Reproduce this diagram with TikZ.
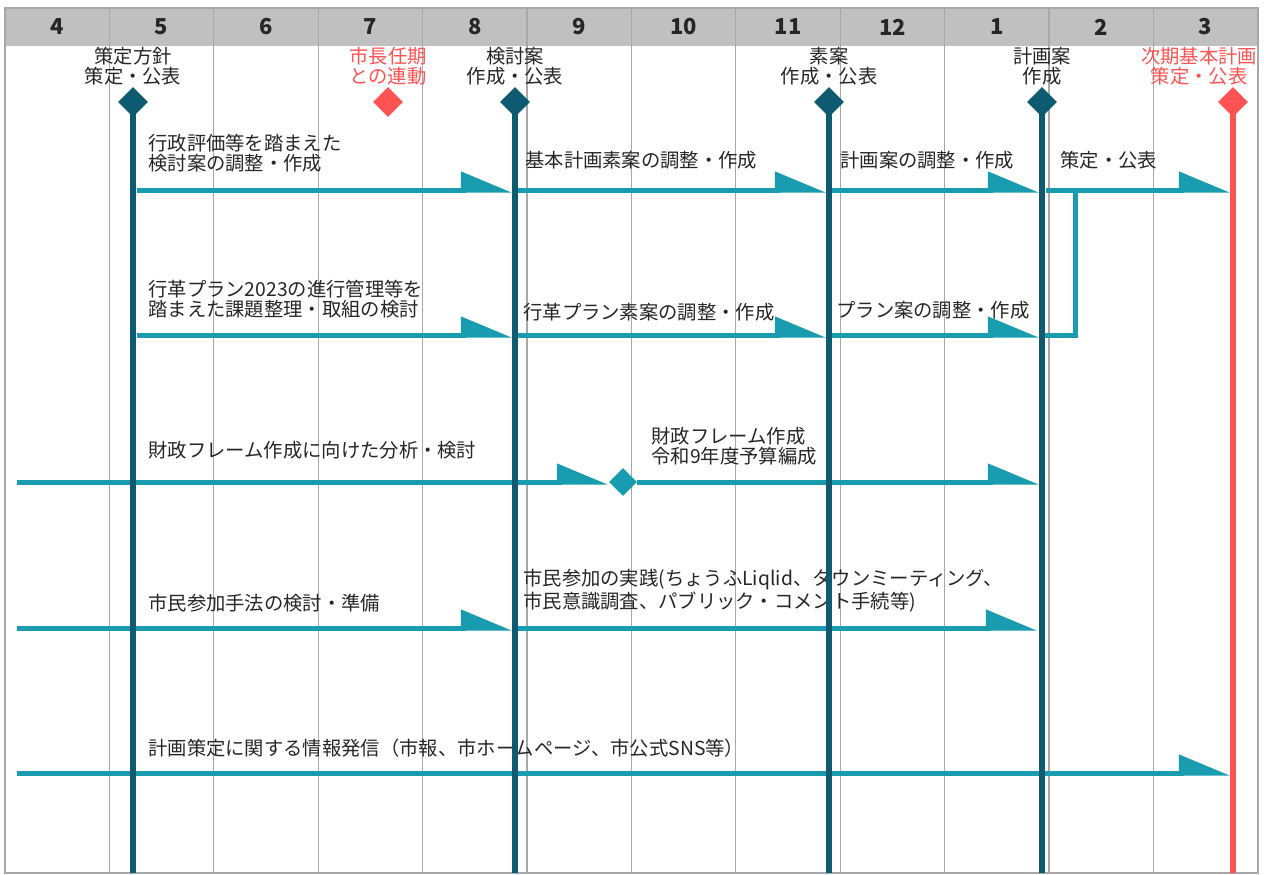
\documentclass[tikz,border=0pt]{standalone}
\usepackage{fontspec}
\setmainfont{Noto Sans CJK JP}
\usepackage{tikz}
\definecolor{planteal}{RGB}{14,90,112}
\definecolor{flowteal}{RGB}{26,156,176}
\definecolor{planred}{RGB}{255,82,82}
\definecolor{headgray}{RGB}{192,192,192}
\definecolor{gridgray}{RGB}{168,168,168}
\definecolor{inkgray}{RGB}{38,38,38}
\usetikzlibrary{arrows.meta,positioning,shapes.geometric}

\begin{document}
\begin{tikzpicture}[x=0.02cm, y=-0.02cm,
    month/.style={font=\fontsize{12.5}{13}\selectfont\bfseries, text=inkgray},
    mile/.style={diamond, fill=planteal, minimum size=0.6cm, inner sep=0pt},
    milered/.style={mile, fill=planred},
    gate/.style={diamond, fill=flowteal, minimum size=0.56cm, inner sep=0pt},
    mlabel/.style={align=center, inner sep=0pt, text=inkgray, font=\fontsize{11}{11.5}\selectfont},
    task/.style={align=left, anchor=west, inner sep=0pt, text=inkgray, font=\fontsize{11}{11.5}\selectfont},
    mileline/.style={draw=planteal, line width=0.11cm},
    redline/.style={draw=planred, line width=0.11cm},
    flow/.style={draw=flowteal, line width=0.1cm, -{Triangle[harpoon, length=0.9cm, width=0.72cm]}},
    merge/.style={draw=flowteal, line width=0.1cm},
    gridline/.style={draw=gridgray, line width=0.7pt}]
    \useasboundingbox (0,0) rectangle (1264,875);

    % Month header and grid
    \fill[headgray] (5,8) rectangle (1258,46);
    \foreach \i in {1,...,11}
        \draw[gridline] ({5+104.4*\i},8) -- ({5+104.4*\i},873);
    \draw[gridline] (5,8) rectangle (1258,873);
    \foreach \m [count=\i from 0] in {4,5,6,7,8,9,10,11,12,1,2,3}
        \node[month] (mon\i) at ({57.2+104.4*\i},27) {\m};
    \coordinate (base) at (0,873);

    % Row 1: basic plan
    \coordinate (r1a) at (137,190);  \coordinate (r1b) at (512,190);
    \coordinate (r1c) at (518,190);  \coordinate (r1d) at (826,190);
    \coordinate (r1e) at (832,190);  \coordinate (r1f) at (1039,190);
    \coordinate (r1g) at (1046,190); \coordinate (r1h) at (1230,190);
    \node[task] at (148,153) {行政評価等を踏まえた\\検討案の調整・作成};
    \node[task] at (525,160) {基本計画素案の調整・作成};
    \node[task] at (840,160) {計画案の調整・作成};
    \node[task] at (1060,160) {策定・公表};
    \draw[flow] (r1a) -- (r1b);
    \draw[flow] (r1c) -- (r1d);
    \draw[flow] (r1e) -- (r1f);
    \draw[flow] (r1g) -- (r1h);

    % Row 2: reform plan
    \coordinate (r2a) at (137,335);  \coordinate (r2b) at (512,335);
    \coordinate (r2c) at (518,335);  \coordinate (r2d) at (826,335);
    \coordinate (r2e) at (832,335);  \coordinate (r2f) at (1039,335);
    \coordinate (r2g) at (1045,335); \coordinate (r2join) at (1075,188);
    \node[task] at (148,299) {行革プラン2023の進行管理等を\\踏まえた課題整理・取組の検討};
    \node[task] at (523,312) {行革プラン素案の調整・作成};
    \node[task] at (836,310) {プラン案の調整・作成};
    \draw[flow] (r2a) -- (r2b);
    \draw[flow] (r2c) -- (r2d);
    \draw[flow] (r2e) -- (r2f);
    \draw[merge] (r2g) -| (r2join);

    % Row 3: fiscal frame
    \coordinate (r3a) at (17,482);   \coordinate (r3b) at (608,482);
    \coordinate (r3c) at (1039,482);
    \node[gate] (frame) at (623,482) {};
    \node[task] at (148,450) {財政フレーム作成に向けた分析・検討};
    \node[task] at (651,446) {財政フレーム作成\\令和9年度予算編成};
    \draw[flow] (r3a) -- (r3b);
    \draw[flow] (frame.east) -- (r3c);

    % Row 4: citizen participation
    \coordinate (r4a) at (17,628);   \coordinate (r4b) at (512,628);
    \coordinate (r4c) at (518,628);  \coordinate (r4d) at (1037,628);
    \node[task] at (148,603) {市民参加手法の検討・準備};
    \node[task] at (523,591) {市民参加の実践(ちょうふLiqlid、タウンミーティング、\\市民意識調査、パブリック・コメント手続等)};
    \draw[flow] (r4a) -- (r4b);
    \draw[flow] (r4c) -- (r4d);

    % Row 5: information
    \coordinate (r5a) at (17,773);   \coordinate (r5b) at (1230,773);
    \node[task] at (148,748) {計画策定に関する情報発信（市報、市ホームページ、市公式SNS等）};
    \draw[flow] (r5a) -- (r5b);

    % Milestones
    \node[mile] (housin) at (133,102) {};
    \node[milered] (ninki) at (388,102) {};
    \node[mile] (kentou) at (515,102) {};
    \node[mile] (soan) at (829,102) {};
    \node[mile] (keikaku) at (1042,102) {};
    \node[milered] (jiki) at (1233,102) {};
    \node[mlabel, above=0.02cm of housin] {策定方針\\策定・公表};
    \node[mlabel, text=planred, above=0.02cm of ninki] {市長任期\\との連動};
    \node[mlabel, above=0.02cm of kentou] {検討案\\作成・公表};
    \node[mlabel, above=0.02cm of soan] {素案\\作成・公表};
    \node[mlabel, above=0.02cm of keikaku] {計画案\\作成};
    \node[mlabel, text=planred, above=0.02cm of jiki, xshift=-0.68cm] {次期基本計画\\策定・公表};
    \foreach \n in {housin,kentou,soan,keikaku}
        \draw[mileline] ([yshift=0.15cm]\n.south) -- (\n.south |- base);
    \draw[redline] ([yshift=0.15cm]jiki.south) -- (jiki.south |- base);
\end{tikzpicture}
\end{document}
